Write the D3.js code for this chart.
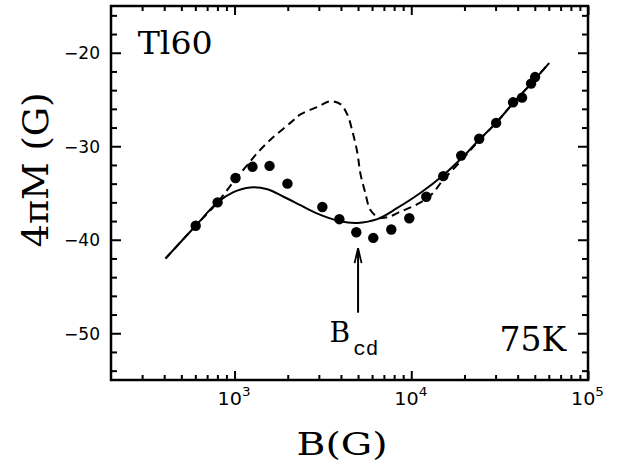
<!DOCTYPE html>
<html lang="en">
<head>
  <meta charset="UTF-8" />
  <title>4πM vs B</title>
  <script src="https://d3js.org/d3.v7.min.js"></script>
  <style>
    body { margin: 0; background: #fff; }
    svg { display: block; background: #fff; }
    .tick line { stroke: #000; stroke-width: 2px; }
    .serif { font-family: "DejaVu Serif", serif; fill: #000; }
    .ticklab { font-family: "DejaVu Sans", sans-serif; font-size: 17px; fill: #000; }
    .curve { fill: none; stroke: #000; stroke-width: 2px; }
  </style>
</head>
<body>
  <svg id="chart"></svg>

  <script>
    // measured points (B in G, 4piM in G)
    const dotB = [603, 802, 1013, 1264, 1578, 1992, 3140, 3918, 4887, 6097, 7707, 9746,
                  12160, 15170, 19160, 24230, 30210, 37680, 42360, 47620, 50190];
    const dotM = [-38.5, -36.0, -33.4, -32.2, -32.1, -34.0, -36.5, -37.8, -39.2, -39.8, -38.9, -37.7,
                  -35.4, -33.2, -31.0, -29.2, -27.5, -25.3, -24.8, -23.3, -22.6];

    // solid curve
    const solidB = [407, 603, 802, 986, 1230, 1535, 1892, 2360, 2944, 3917, 4955, 6427, 8337,
                    11250, 15170, 19680, 23930, 30200, 37670, 47640, 60260];
    const solidM = [-42.0, -38.5, -36.0, -34.9, -34.4, -34.6, -35.4, -36.3, -37.2, -38.0, -38.2, -37.8, -36.6,
                    -35.0, -33.1, -31.1, -29.4, -27.5, -25.4, -23.3, -21.1];

    // dashed curve
    const dashB = [407, 603, 802, 1014, 1183, 1349, 1596, 2070, 2360, 2944, 3483, 3972, 4345, 4645,
                   4955, 5152, 5495, 5861, 6516, 7311, 8670, 10810, 12790, 15170, 19680, 23600,
                   30200, 37670, 47640, 60260];
    const dashM = [-42.0, -38.5, -36.0, -33.5, -32.0, -30.7, -29.3, -27.5, -26.6, -25.8, -25.2, -25.5, -26.6, -28.4,
                   -30.7, -32.9, -35.0, -36.8, -37.6, -37.6, -37.0, -36.2, -35.3, -33.6, -31.3, -29.6,
                   -27.5, -25.4, -23.3, -21.1];

    const xTicks = [1e3, 1e4, 1e5];
    const xTickExp = ["3", "4", "5"];
    const yTicks = [-20, -30, -40, -50];
    const yTickLabels = ["\u221220", "\u221230", "\u221240", "\u221250"];

    const arrowB = 5000;
    const arrowM = [-47.8, -40.9];

    const margin = { top: 6, right: 35, bottom: 86, left: 111 };
    const width  = 623 - margin.left - margin.right;
    const height = 466 - margin.top - margin.bottom;

    const svgRoot = d3.select("#chart")
      .attr("width", 623)
      .attr("height", 466);

    const svg = svgRoot.append("g")
      .attr("transform", `translate(${margin.left},${margin.top})`);

    const x = d3.scaleLog().domain([200, 1e5]).range([0, width]);
    const y = d3.scaleLinear().domain([-55, -15]).range([height, 0]);

    // minor ticks
    const xMinor = [];
    [100, 1000, 10000].forEach(dec => {
      for (let k = 2; k <= 9; k++) {
        const v = k * dec;
        if (v > 200 && v < 1e5) xMinor.push(v);
      }
    });
    const yMinor = d3.range(-54, -15, 2).filter(v => v % 10 !== 0);

    function strip(g) { g.select(".domain").remove(); }

    // tick marks on all four sides, pointing inwards
    const sides = [
      { gen: d3.axisBottom, s: x, t: `translate(0,${height})`, major: xTicks, minor: xMinor, L: 9, l: 5 },
      { gen: d3.axisTop,    s: x, t: null,                     major: xTicks, minor: xMinor, L: 9, l: 5 },
      { gen: d3.axisLeft,   s: y, t: null,                     major: yTicks, minor: yMinor, L: 10, l: 6 },
      { gen: d3.axisRight,  s: y, t: `translate(${width},0)`,  major: yTicks, minor: yMinor, L: 10, l: 6 }
    ];
    sides.forEach(sd => {
      [[sd.major, sd.L], [sd.minor, sd.l]].forEach(([vals, len]) => {
        svg.append("g")
          .attr("transform", sd.t)
          .call(sd.gen(sd.s).tickValues(vals).tickSizeInner(-len).tickSizeOuter(0).tickFormat(""))
          .call(strip);
      });
    });

    // tick labels
    const xl = svg.selectAll(".xlab")
      .data(xTicks)
      .join("text")
      .attr("class", "ticklab xlab")
      .attr("x", d => x(d) - 17)
      .attr("y", height + 25)
      .attr("textLength", 33)
      .attr("lengthAdjust", "spacingAndGlyphs");
    xl.append("tspan").text("10");
    xl.append("tspan")
      .attr("dy", -9)
      .attr("font-size", 12)
      .text((d, i) => xTickExp[i]);

    svg.selectAll(".ylab")
      .data(yTicks)
      .join("text")
      .attr("class", "ticklab ylab")
      .attr("x", -11)
      .attr("y", d => y(d))
      .attr("dy", "0.37em")
      .attr("text-anchor", "end")
      .attr("textLength", 36)
      .attr("lengthAdjust", "spacingAndGlyphs")
      .text((d, i) => yTickLabels[i]);

    // frame
    svg.append("rect")
      .attr("width", width)
      .attr("height", height)
      .attr("fill", "none")
      .attr("stroke", "#000")
      .attr("stroke-width", 2.5);

    // curves
    const line = d3.line()
      .x(d => x(d[0]))
      .y(d => y(d[1]))
      .curve(d3.curveCatmullRom.alpha(0.5));

    svg.append("path")
      .datum(dashB.map((b, i) => [b, dashM[i]]))
      .attr("class", "curve")
      .attr("stroke-dasharray", "8,5")
      .attr("d", line);

    svg.append("path")
      .datum(solidB.map((b, i) => [b, solidM[i]]))
      .attr("class", "curve")
      .attr("d", line);

    svg.selectAll(".dot")
      .data(dotB.map((b, i) => [b, dotM[i]]))
      .join("circle")
      .attr("class", "dot")
      .attr("cx", d => x(d[0]))
      .attr("cy", d => y(d[1]))
      .attr("r", 5.2)
      .attr("fill", "#000");

    // arrow to B_cd
    const ax = x(arrowB);
    svg.append("line")
      .attr("x1", ax).attr("x2", ax)
      .attr("y1", y(arrowM[0])).attr("y2", y(arrowM[1]) + 2)
      .attr("stroke", "#000").attr("stroke-width", 2);
    svg.append("path")
      .attr("d", `M${ax - 3.5},${y(arrowM[1]) + 15} L${ax},${y(arrowM[1])} L${ax + 3.5},${y(arrowM[1]) + 15}`)
      .attr("fill", "none")
      .attr("stroke", "#000")
      .attr("stroke-width", 1.8);

    const bcd = svg.append("text")
      .attr("class", "serif")
      .attr("x", x(3450))
      .attr("y", y(-50.96))
      .attr("font-size", "28px");
    bcd.append("tspan").text("B");
    bcd.append("tspan")
      .attr("dx", "3")
      .attr("dy", "13")
      .attr("font-family", "'Liberation Mono', monospace")
      .attr("font-size", "21px")
      .text("cd");

    // annotations
    svg.append("text")
      .attr("class", "serif")
      .attr("x", x(283))
      .attr("y", y(-20.1))
      .attr("font-size", "32px")
      .attr("textLength", 75)
      .attr("lengthAdjust", "spacingAndGlyphs")
      .text("Tl60");

    svg.append("text")
      .attr("class", "serif")
      .attr("x", x(75200))
      .attr("y", y(-51.9))
      .attr("text-anchor", "end")
      .attr("font-size", "33px")
      .text("75K");

    // axis titles
    svgRoot.append("text")
      .attr("class", "serif")
      .attr("x", 342)
      .attr("y", 455)
      .attr("text-anchor", "middle")
      .attr("font-size", "31px")
      .attr("textLength", 91)
      .attr("lengthAdjust", "spacingAndGlyphs")
      .text("B(G)");

    svgRoot.append("text")
      .attr("class", "serif")
      .attr("transform", "translate(48,170) rotate(-90)")
      .attr("text-anchor", "middle")
      .attr("font-size", "36px")
      .attr("textLength", 155)
      .attr("lengthAdjust", "spacingAndGlyphs")
      .text("4πM (G)");
  </script>
</body>
</html>
